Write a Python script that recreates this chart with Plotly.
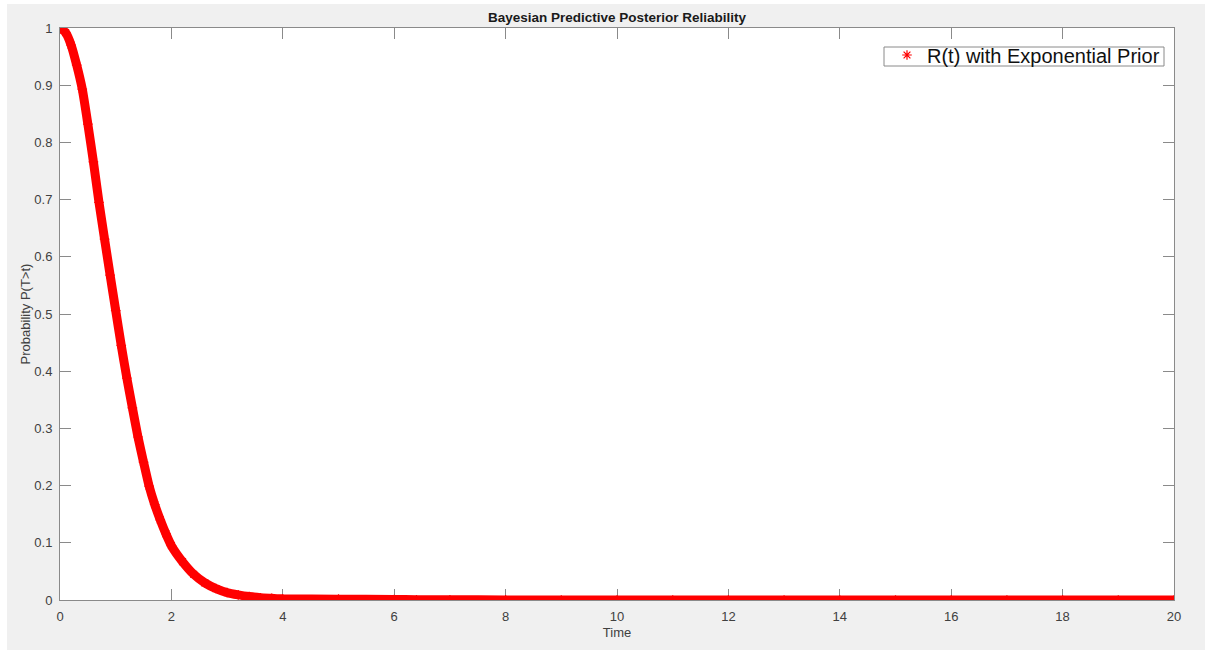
import plotly.graph_objects as go

# Values
time_t = [0.0, 0.1, 0.2, 0.3, 0.4, 0.5, 0.6, 0.7, 0.8, 0.9, 1.0, 1.1, 1.2, 1.3, 1.4,
          1.5, 1.6, 1.7, 1.8, 1.9, 2.0, 2.2, 2.4, 2.6, 2.8, 3.0, 3.2, 3.4, 3.6, 3.8,
          4.0, 5.0, 6.0, 6.4, 7.0, 8.0, 9.0, 10.0, 11.0, 12.0, 13.0, 14.0, 15.0, 16.0,
          17.0, 18.0, 19.0, 20.0]
reliability = [1.000, 0.992, 0.970, 0.935, 0.893, 0.832, 0.766, 0.695, 0.631, 0.568,
               0.506, 0.445, 0.388, 0.336, 0.285, 0.241, 0.199, 0.167, 0.140, 0.116,
               0.095, 0.067, 0.045, 0.030, 0.020, 0.013, 0.009, 0.006, 0.004, 0.003,
               0.002, 0.0015, 0.001, 0.0005, 0.0003, 0.0002, 0.0001, 0.0001, 0.0, 0.0,
               0.0, 0.0, 0.0, 0.0, 0.0, 0.0, 0.0, 0.0]
x_ticks = [0, 2, 4, 6, 8, 10, 12, 14, 16, 18, 20]
y_ticks = [0, 0.1, 0.2, 0.3, 0.4, 0.5, 0.6, 0.7, 0.8, 0.9, 1]

FONT = "Liberation Sans, Arial, sans-serif"
AXIS_COL = "#8a8a8a"
TXT_COL = "#404040"

# plot area in pixels
L, R, T, B = 60, 1174, 28, 600
W, H = 1205, 650


def px_x(p):
    return (p - L) / (R - L)


def px_y(p):
    return (B - p) / (B - T)


fig = go.Figure()
fig.add_trace(go.Scatter(
    x=time_t, y=reliability, mode="lines",
    line=dict(color="#ff0000", width=9, shape="spline", smoothing=0.6),
    showlegend=False, hoverinfo="skip"))
fig.add_trace(go.Scatter(
    x=time_t, y=reliability, mode="markers",
    name="R(t) with Exponential Prior",
    marker=dict(symbol="asterisk-open", size=8, color="#ff0000",
                line=dict(color="#ff0000", width=1.2)),
    cliponaxis=True))

axis_common = dict(
    showline=True, linecolor=AXIS_COL, linewidth=1, mirror="ticks",
    ticks="inside", ticklen=11, tickwidth=1, tickcolor=AXIS_COL,
    showgrid=False, zeroline=False, layer="below traces",
    ticklabelstandoff=4,
    tickfont=dict(family=FONT, size=13, color=TXT_COL),
)

fig.update_layout(
    width=W, height=H, autosize=False,
    margin=dict(l=L, r=W - R, t=T, b=H - B),
    paper_bgcolor="#ffffff", plot_bgcolor="#ffffff",
    font=dict(family=FONT, color=TXT_COL),
    title=dict(text="Bayesian Predictive Posterior Reliability",
               x=0.5, xref="paper", xanchor="center",
               y=1 - 17 / H, yref="container", yanchor="middle",
               font=dict(family=FONT, size=13.5, color="#1a1a1a", weight="bold")),
    xaxis=dict(range=[0, 20], tickvals=x_ticks,
               title=dict(text="Time", standoff=5,
                          font=dict(family=FONT, size=13, color=TXT_COL)),
               **axis_common),
    yaxis=dict(range=[0, 1], tickvals=y_ticks,
               ticktext=[f"{v:g}" for v in y_ticks],
               title=dict(text="Probability P(T>t)", standoff=0,
                          font=dict(family=FONT, size=13, color=TXT_COL)),
               **axis_common),
    legend=dict(x=px_x(887), xanchor="left",
                y=px_y(55), yanchor="middle",
                bgcolor="rgba(0,0,0,0)", borderwidth=0,
                font=dict(family=FONT, size=20, color="#111111"),
                itemwidth=30, tracegroupgap=0),
    shapes=[
        dict(type="rect", xref="paper", yref="paper", layer="below",
             x0=px_x(7), x1=px_x(W), y0=px_y(H), y1=px_y(4),
             fillcolor="#f0f0f0", line=dict(width=0)),
        dict(type="rect", xref="paper", yref="paper", layer="below",
             x0=0, x1=1, y0=0, y1=1,
             fillcolor="#ffffff", line=dict(width=0)),
        dict(type="rect", xref="paper", yref="paper", layer="above",
             x0=px_x(884), x1=px_x(1164), y0=px_y(66), y1=px_y(47),
             fillcolor="#ffffff", line=dict(color=AXIS_COL, width=1)),
    ],
)

fig.write_html("out.html")
